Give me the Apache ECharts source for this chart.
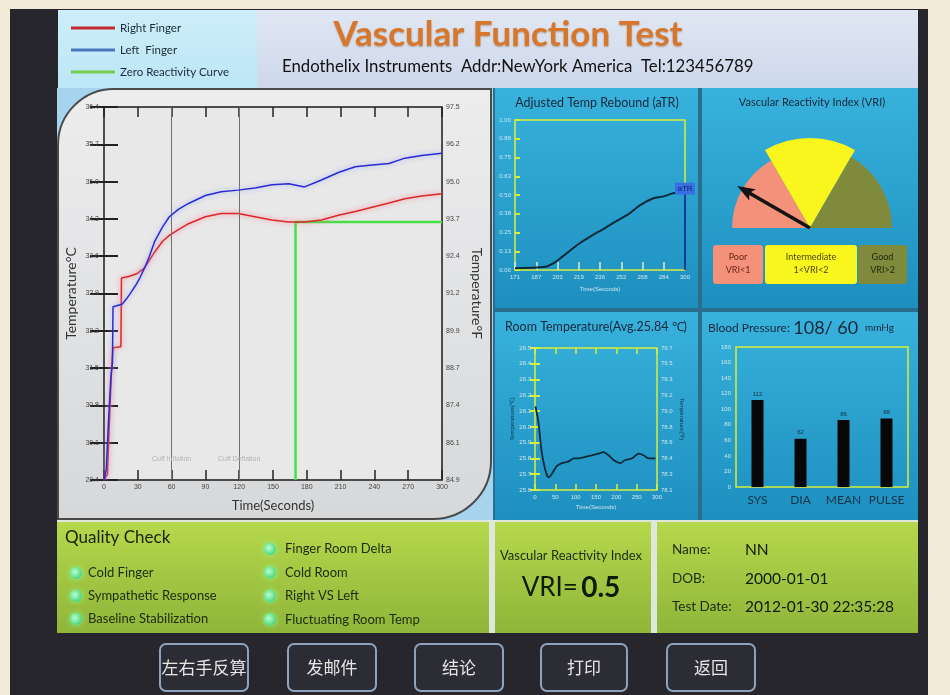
<!DOCTYPE html>
<html><head><meta charset="utf-8">
<script src="https://cdn.jsdelivr.net/npm/echarts@6/dist/echarts.min.js"></script>
<style>html,body{margin:0;padding:0;background:#f3ead8;overflow:hidden}#c{width:950px;height:695px}</style>
</head><body><div id="c"></div>
<script>
// ---------------- data ----------------
const legendNames = ['Right Finger', 'Left  Finger', 'Zero Reactivity Curve'];
const rightTime = [0,3,5,7,8,15,15.5,22,29,36,45,52,58,66,75,90,104,119,134,149,164,178,193,208,223,238,253,267,282,300];
const rightTemp = [29.4,29.5,30.6,31.6,31.88,31.9,33.19,33.22,33.27,33.38,33.68,33.88,33.99,34.1,34.21,34.34,34.4,34.4,34.34,34.28,34.24,34.24,34.28,34.37,34.44,34.52,34.6,34.68,34.73,34.77];
const leftTime = [0,2,4,6,7.5,8,16,20,24,28,32,36,40,45,52,58,66,75,90,104,119,134,149,164,178,193,208,223,238,253,267,282,300];
const leftTemp = [29.4,29.6,30.5,31.3,31.6,32.65,32.7,32.8,32.92,33.05,33.2,33.38,33.58,33.88,34.15,34.34,34.48,34.59,34.74,34.81,34.84,34.88,34.94,34.96,34.9,35.03,35.17,35.28,35.31,35.34,35.44,35.49,35.53];
const zeroTime = [170,170,300];
const zeroTemp = [29.4,34.24,34.24];
const cuffTimes = [60,120];
const cuffLabels = ['Cuff Inflation','Cuff Deflation'];

const atrTime = [171,194,200,207,220,232,237,245,258,266,276,283,291,300];
const atrValue = [0.011,0.022,0.044,0.089,0.178,0.244,0.267,0.311,0.378,0.433,0.478,0.489,0.511,0.522];

const roomTime = [1,8,16,25,33,41,53,66,82,95,107,123,140,156,168,181,193,210,222,238,255,267,279,296];
const roomTemp = [26.13,26.04,25.85,25.73,25.68,25.70,25.75,25.77,25.78,25.80,25.80,25.81,25.82,25.83,25.84,25.82,25.79,25.77,25.79,25.80,25.83,25.82,25.80,25.80];

const bpCategories = ['SYS','DIA','MEAN','PULSE'];
const bpValues = [112,62,86,88];

const vriBands = ['Poor','Intermediate','Good'];
const vriBandRadius = [78,90,82];
const vriBandText = ['Poor\nVRI<1','Intermediate\n1<VRI<2','Good\nVRI>2'];
const vriValue = 0.5;

const qualityLeft = ['Cold Finger','Sympathetic Response','Baseline Stabilization'];
const qualityRight = ['Finger Room Delta','Cold Room','Right VS Left','Fluctuating Room Temp'];
const buttonLabels = ['左右手反算','发邮件','结论','打印','返回'];

// ---------------- helpers ----------------
const zip = (a,b) => a.map((v,i)=>[v,b[i]]);
const G = echarts.graphic;
const vgrad = (c0,c1) => new G.LinearGradient(0,0,0,1,[{offset:0,color:c0},{offset:1,color:c1}]);
function rect(x,y,w,h,fill,opt){opt=opt||{};return {type:'rect',z:opt.z!=null?opt.z:-10,silent:true,shape:{x:x,y:y,width:w,height:h,r:opt.r||0},style:Object.assign({fill:fill},opt.style||{})};}
function txt(x,y,text,font,fill,align,extra){return {type:'text',x:x,y:y,z:20,silent:true,style:Object.assign({text:text,font:font,fill:fill,textAlign:align||'left',textVerticalAlign:'middle'},extra||{})};}

const F = c => c*1.8+32;
const teal = () => vgrad('#38b2dc','#1d8fbf');
const green = () => vgrad('#b6d84c','#8fb53a');
const darkTxt = '#17283a';
const smallLbl = '#cfe6ee';
const yellow = '#d9ee3a';

const graphics = [];
// frame
graphics.push(rect(10,9,918,686,'#26262c',{z:-20}));
// legend panel + title panel
graphics.push(rect(58,10,199,78,vgrad('#cdeefa','#bce6f6')));
graphics.push(rect(257,10,661,78,vgrad('#e0e7f3','#cdd8ea')));
// main chart panel
graphics.push(rect(57,88,436,432,'#a6d4ee'));
graphics.push(rect(58,89,433,430,vgrad('#ededee','#d6d8da'),{r:[56,0,58,0],style:{stroke:'#4a4a4a',lineWidth:2}}));
// right panels
graphics.push(rect(493,88,425,432,'#2b6d8c'));
graphics.push(rect(495,88,203,220,teal()));
graphics.push(rect(702,88,216,220,teal()));
graphics.push(rect(495,312,203,208,teal()));
graphics.push(rect(702,312,216,208,teal()));
// bottom panels
graphics.push(rect(57,520,861,113,'#dfe6dc'));
graphics.push(rect(57,522,432,111,green()));
graphics.push(rect(495,522,156,111,green()));
graphics.push(rect(657,522,261,111,green()));

// titles
graphics.push(txt(508,35,'Vascular Function Test','bold 35px Lato','#d8772c','center',{textShadowColor:'rgba(90,40,0,0.35)',textShadowBlur:2,textShadowOffsetY:1}));
graphics.push(txt(282,67,'Endothelix Instruments  Addr:NewYork America  Tel:123456789','16.8px Lato','#111','left'));
graphics.push(txt(597,103,'Adjusted Temp Rebound (aTR)','12.5px Lato',darkTxt,'center'));
graphics.push(txt(812,102,'Vascular Reactivity Index (VRI)','11px Lato',darkTxt,'center'));
graphics.push(txt(596,327,'Room Temperature(Avg.25.84 \u2103)','12.5px Lato',darkTxt,'center'));
graphics.push({type:'text',x:708,y:328,z:20,silent:true,style:{text:'{a|Blood Pressure:} {b|108/ 60}  {c|mmHg}',textVerticalAlign:'middle',rich:{a:{font:'12px Lato',fill:darkTxt},b:{font:'18px Lato',fill:darkTxt},c:{font:'10px Lato',fill:darkTxt}}}});

// VRI band boxes
const bandColors = ['#f3917a','#fbf51e','#7f8a3c'];
const bandTxtColors = ['#6a2414','#4a4a00','#22280a'];
const bandBoxes = [[713,50],[765,92],[858,49]];
vriBandText.forEach((t,i)=>{
  graphics.push(rect(bandBoxes[i][0],245,bandBoxes[i][1],39,bandColors[i],{z:5,r:3}));
  graphics.push(txt(bandBoxes[i][0]+bandBoxes[i][1]/2,264,t,'9px Lato',bandTxtColors[i],'center',{lineHeight:13}));
});

// Quality check
graphics.push(txt(65,538,'Quality Check','17px Lato','#16240a','left'));
const bullet = (cx,cy)=>({type:'circle',z:15,silent:true,shape:{cx:cx,cy:cy,r:6},style:{fill:new G.RadialGradient(0.4,0.4,0.7,[{offset:0,color:'#b8ffd0'},{offset:1,color:'#3fcf70'}]),shadowBlur:5,shadowColor:'#7dff9a'}});
qualityLeft.forEach((t,i)=>{const y=573+i*23;graphics.push(bullet(76,y));graphics.push(txt(88,y,t,'13px Lato','#1c2c10','left'));});
qualityRight.forEach((t,i)=>{const y=549+i*23.5;graphics.push(bullet(270,y));graphics.push(txt(285,y,t,'13px Lato','#1c2c10','left'));});
// VRI result
graphics.push(txt(571,556,'Vascular Reactivity Index','13px Lato','#1c2c10','center'));
graphics.push({type:'text',x:571,y:588,z:20,silent:true,style:{text:'{a|VRI=} {b|'+vriValue+'}',textAlign:'center',textVerticalAlign:'middle',rich:{a:{font:'26px Lato',fill:'#0e1a06'},b:{font:'bold 28px Lato',fill:'#0e1a06'}}}});
// patient
[['Name:','NN',550],['DOB:','2000-01-01',579],['Test Date:','2012-01-30 22:35:28',607]].forEach(r=>{
  graphics.push(txt(672,r[2],r[0],'13.5px Lato','#1c2c10','left'));
  graphics.push(txt(745,r[2],r[1],'15.5px Lato','#0e1a06','left'));
});
// buttons
const btnX = [[160,88],[288,88],[415,88],[541,86],[667,88]];
buttonLabels.forEach((b,i)=>{
  graphics.push(rect(btnX[i][0],644,btnX[i][1],47,'#2c2c34',{z:5,r:6,style:{stroke:'#8ea3bb',lineWidth:2}}));
  graphics.push(txt(btnX[i][0]+btnX[i][1]/2,668,b,'17px "Noto Sans CJK SC"','#e6e6e6','center'));
});

// ---------------- chart ----------------
const chart = echarts.init(document.getElementById('c'), null, {renderer:'canvas'});
const atrStart = atrTime[0], atrEnd = atrTime[atrTime.length-1];
const atrSpan = atrEnd - atrStart;

const option = {
  animation:false,
  backgroundColor:'#f3ead8',
  graphic:{elements:graphics},
  legend:{
    orient:'vertical', left:66, top:17, itemWidth:44, itemHeight:3, itemGap:10, icon:'rect',
    textStyle:{fontSize:11.5, color:'#1a2a3a', fontFamily:'Lato'},
    data:[{name:legendNames[0],itemStyle:{color:'#c8282c'}},{name:legendNames[1],itemStyle:{color:'#4a78c0'}},{name:legendNames[2],itemStyle:{color:'#78cc50'}}],
    selectedMode:false
  },
  grid:[
    {left:104, top:107, width:338, height:373, show:true, backgroundColor:'#e8e8e8', borderColor:'#1a1a1a', borderWidth:1.5},
    {left:515, top:120, width:170, height:150, show:true, backgroundColor:'rgba(0,0,0,0)', borderColor:yellow, borderWidth:1.5},
    {left:535, top:348, width:122, height:142, show:true, backgroundColor:'rgba(0,0,0,0)', borderColor:yellow, borderWidth:1.5},
    {left:736, top:347, width:172, height:140, show:true, backgroundColor:'rgba(0,0,0,0)', borderColor:yellow, borderWidth:1.5}
  ],
  xAxis:[
    {gridIndex:0,type:'value',min:0,max:300,interval:30,axisLine:{show:false},splitLine:{show:false},
     axisTick:{inside:true,length:10,lineStyle:{color:'#222',width:1.5}},
     axisLabel:{fontSize:7,color:'#444',margin:4},
     name:'Time(Seconds)',nameLocation:'middle',nameGap:19,nameTextStyle:{fontSize:13,color:'#333',fontFamily:'Lato'}},
    {gridIndex:0,type:'value',position:'top',min:0,max:300,interval:30,axisLine:{show:false},splitLine:{show:false},
     axisTick:{inside:true,length:10,lineStyle:{color:'#222',width:1.5}},axisLabel:{show:false}},
    {gridIndex:1,type:'value',min:0,max:atrSpan,interval:atrSpan/8,axisLine:{show:false},splitLine:{show:false},
     axisTick:{inside:true,length:8,lineStyle:{color:'#d8ecd8',width:1.5}},
     axisLabel:{fontSize:6,color:smallLbl,margin:4,formatter:v=>String(Math.round(v+atrStart))},
     name:'Time(Seconds)',nameLocation:'middle',nameGap:16,nameTextStyle:{fontSize:6,color:smallLbl}},
    {gridIndex:2,type:'value',min:0,max:300,interval:50,axisLine:{show:false},splitLine:{show:false},
     axisTick:{inside:true,length:6,lineStyle:{color:yellow,width:1.5}},
     axisLabel:{fontSize:6,color:smallLbl,margin:4},
     name:'Time(Seconds)',nameLocation:'middle',nameGap:14,nameTextStyle:{fontSize:6,color:smallLbl}},
    {gridIndex:2,type:'value',position:'top',min:0,max:300,interval:50,axisLine:{show:false},splitLine:{show:false},
     axisTick:{inside:true,length:6,lineStyle:{color:yellow,width:1.5}},axisLabel:{show:false}},
    {gridIndex:3,type:'category',data:bpCategories,axisLine:{show:false},
     axisTick:{inside:true,length:23,lineStyle:{color:'#d6f08a',width:1}},
     axisLabel:{fontSize:12,color:'#143246',margin:7,fontFamily:'Lato',interval:0}},
    {gridIndex:3,type:'category',position:'top',data:bpCategories,axisLine:{show:false},
     axisTick:{inside:true,length:23,lineStyle:{color:'#d6f08a',width:1}},axisLabel:{show:false}}
  ],
  yAxis:[
    {gridIndex:0,type:'value',min:29.4,max:36.4,interval:0.7,axisLine:{show:false},splitLine:{show:false},
     axisTick:{inside:true,length:14,lineStyle:{color:'#222',width:2}},
     axisLabel:{fontSize:7,color:'#444',margin:5,formatter:v=>v.toFixed(1)},
     name:'Temperature\u00B0C',nameLocation:'middle',nameGap:26,nameTextStyle:{fontSize:14,color:'#333',fontFamily:'Lato'}},
    {gridIndex:0,type:'value',position:'right',min:29.4,max:36.4,interval:0.7,axisLine:{show:false},splitLine:{show:false},
     axisTick:{inside:true,length:14,lineStyle:{color:'#222',width:2}},
     axisLabel:{fontSize:7,color:'#444',margin:4,formatter:v=>(Math.floor(F(v)*10+1e-6)/10).toFixed(1)},
     name:'Temperature\u00B0F',nameLocation:'middle',nameRotate:-90,nameGap:28,nameTextStyle:{fontSize:14,color:'#333',fontFamily:'Lato'}},
    {gridIndex:1,type:'value',min:0,max:1,interval:0.125,axisLine:{show:false},splitLine:{show:false},
     axisTick:{inside:true,length:5,lineStyle:{color:yellow,width:2}},
     axisLabel:{fontSize:6,color:smallLbl,margin:4,formatter:v=>v.toFixed(2)}},
    {gridIndex:2,type:'value',min:25.6,max:26.5,interval:0.1,axisLine:{show:false},splitLine:{show:false},
     axisTick:{inside:true,length:5,lineStyle:{color:yellow,width:2}},
     axisLabel:{fontSize:6,color:smallLbl,margin:4,formatter:v=>v.toFixed(1)},
     name:'Temperature(\u2103)',nameLocation:'middle',nameGap:20,nameTextStyle:{fontSize:6,color:'#12304a'}},
    {gridIndex:2,type:'value',position:'right',min:25.6,max:26.5,interval:0.1,axisLine:{show:false},splitLine:{show:false},
     axisTick:{inside:true,length:5,lineStyle:{color:yellow,width:2}},
     axisLabel:{fontSize:6,color:smallLbl,margin:4,formatter:v=>F(v).toFixed(1)},
     name:'Temperature(\u2109)',nameLocation:'middle',nameRotate:-90,nameGap:22,nameTextStyle:{fontSize:6,color:'#12304a'}},
    {gridIndex:3,type:'value',min:0,max:180,interval:20,axisLine:{show:false},splitLine:{show:false},
     axisTick:{inside:true,length:5,lineStyle:{color:yellow,width:2}},
     axisLabel:{fontSize:6,color:smallLbl,margin:5}}
  ],
  polar:{center:[810,228],radius:[0,90]},
  angleAxis:{type:'category',data:vriBands.concat(['','','']),startAngle:180,clockwise:true,show:false},
  radiusAxis:{type:'value',min:0,max:90,show:false},
  series:[
    {name:legendNames[0],type:'line',xAxisIndex:0,yAxisIndex:0,data:zip(rightTime,rightTemp),showSymbol:false,symbol:'none',z:4,
     lineStyle:{color:'#d82a2a',width:1.5,shadowColor:'rgba(255,110,130,0.9)',shadowBlur:5},itemStyle:{color:'#d82a2a'},
     markLine:{silent:true,symbol:'none',label:{show:false},lineStyle:{color:'#707070',width:1,type:'solid'},data:cuffTimes.map(t=>({xAxis:t}))},
     markPoint:{silent:true,symbol:'circle',symbolSize:0,label:{show:true,formatter:'{b}',color:'#b4b4b4',fontSize:7},
       data:cuffTimes.map((t,i)=>({name:cuffLabels[i],coord:[t,29.8]}))}},
    {name:legendNames[1],type:'line',xAxisIndex:0,yAxisIndex:0,data:zip(leftTime,leftTemp),showSymbol:false,symbol:'none',z:5,
     lineStyle:{color:'#2a2ad2',width:1.5,shadowColor:'rgba(150,170,255,0.9)',shadowBlur:5},itemStyle:{color:'#2a2ad2'}},
    {name:legendNames[2],type:'line',xAxisIndex:0,yAxisIndex:0,data:zip(zeroTime,zeroTemp),showSymbol:false,symbol:'none',z:3,
     lineStyle:{color:'#46e046',width:2.5},itemStyle:{color:'#46e046'}},
    {name:'aTR',type:'line',xAxisIndex:2,yAxisIndex:2,data:atrTime.map((t,i)=>[t-atrStart,atrValue[i]]),showSymbol:false,symbol:'none',smooth:0.3,
     lineStyle:{color:'#0c2a3a',width:2},
     markLine:{silent:true,symbol:'none',label:{show:false},lineStyle:{color:'#143a9a',width:2,type:'solid'},
       data:[[{coord:[atrSpan,0]},{coord:[atrSpan,atrValue[atrValue.length-1]]}]]},
     markPoint:{silent:true,symbol:'rect',symbolSize:[20,12],itemStyle:{color:'#3a6fe4'},
       label:{show:true,formatter:'aTR',color:'#0c1f70',fontSize:8},
       data:[{coord:[atrSpan,atrValue[atrValue.length-1]+0.02]}]}},
    {name:'Room',type:'line',xAxisIndex:3,yAxisIndex:3,data:zip(roomTime,roomTemp),showSymbol:false,symbol:'none',smooth:0.2,
     lineStyle:{color:'#0c2a3a',width:1.8}},
    {name:'BP',type:'bar',xAxisIndex:5,yAxisIndex:5,data:bpValues,barWidth:12,itemStyle:{color:'#070707'},
     label:{show:true,position:'top',fontSize:6,color:'#15303e',distance:3}},
    {name:'VRI bands',type:'bar',coordinateSystem:'polar',barCategoryGap:'0%',silent:true,z:2,
     data:vriBandRadius.map((r,i)=>({value:r,itemStyle:{color:bandColors[i]}})).concat(['-','-','-'])},
    {name:'VRI',type:'gauge',center:[810,228],radius:84,startAngle:180,endAngle:0,min:0,max:3,z:6,silent:true,
     axisLine:{show:false},splitLine:{show:false},axisTick:{show:false},axisLabel:{show:false},
     pointer:{icon:'path://M5,0 L10,13 L6.4,11 L6.4,62 L3.6,62 L3.6,11 L0,13 Z',length:84,width:13,itemStyle:{color:'#141414'}},
     anchor:{show:false},title:{show:false},detail:{show:false},data:[{value:vriValue}]}
  ]
};
chart.setOption(option);
</script>
</body></html>
